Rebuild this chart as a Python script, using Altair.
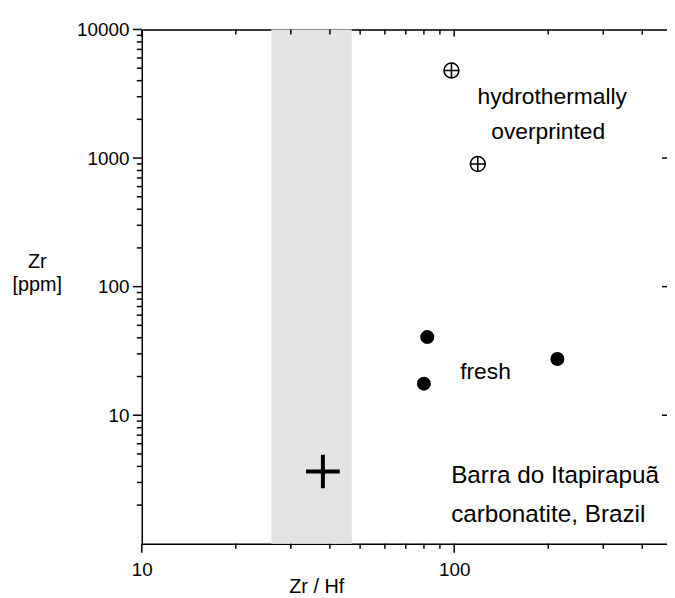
import altair as alt
import pandas as pd

# ---- data ----
fresh_zrhf = [82, 80, 214]
fresh_zr = [40.5, 17.6, 27.4]
hydro_zrhf = [98, 119]
hydro_zr = [4800, 900]
cross_zrhf = [38]
cross_zr = [3.65]
band_zrhf = [26, 47]
band_zr = [1, 10000]

x_major = [10, 100]
x_minor = [20, 30, 40, 50, 60, 70, 80, 90, 200, 300, 400]
y_major = [10, 100, 1000, 10000]
y_minor = [m * d for d in [1, 10, 100, 1000] for m in range(2, 10)]
y_right = [10, 100, 1000]

note_text = ["hydrothermally", "overprinted", "fresh"]
note_x = [206, 200, 126]
note_y = [2990, 1607, 21.5]
site_text = ["Barra do Itapirapuã", "carbonatite, Brazil"]
site_x = [97.8, 97.8]
site_y = [3.34, 1.67]

FONT = "Liberation Sans"
W, H = 530, 519

xs = alt.Scale(type="log", domain=[10, 480], nice=False)
ys = alt.Scale(type="log", domain=[1, 10000], nice=False)

bottom_axis = alt.Axis(
    orient="bottom", values=x_major, grid=False, ticks=False,
    labelExpr="format(datum.value, 'd')",
    labelOverlap=False, labelFlush=False, labelFontSize=19, labelPadding=17,
    labelColor="black", labelFont=FONT,
    domainColor="black", domainWidth=1.5,
    title="Zr / Hf", titleFont=FONT, titleFontSize=20, titleFontWeight="normal",
    titleColor="black", titleX=176, titleY=49, titleBaseline="alphabetic",
    titleAlign="center",
)
left_axis = alt.Axis(
    orient="left", values=y_major, grid=False, ticks=False,
    labelExpr="format(datum.value, 'd')",
    labelOverlap=False, labelFlush=False, labelFontSize=19, labelPadding=13,
    labelColor="black", labelFont=FONT,
    domainColor="black", domainWidth=1.5,
    title=["Zr", "[ppm]"], titleFont=FONT, titleFontSize=20, titleFontWeight="normal",
    titleColor="black", titleAngle=0, titleX=-106, titleY=240,
    titleBaseline="alphabetic", titleAlign="center", titleLineHeight=23,
)
top_axis = alt.Axis(
    orient="top", grid=False, labels=False, ticks=False, title=None,
    domainColor="black", domainWidth=1.5,
)
right_axis = alt.Axis(
    orient="right", grid=False, labels=False, ticks=False, title=None,
    domainColor="#bbbbbb", domainWidth=1,
)

band_df = pd.DataFrame({"x1": [band_zrhf[0]], "x2": [band_zrhf[1]],
                        "y1": [band_zr[0]], "y2": [band_zr[1]]})
band = alt.Chart(band_df).mark_rect(color="#e3e3e3").encode(
    x=alt.X("x1:Q", scale=xs, axis=bottom_axis),
    x2="x2:Q",
    y=alt.Y("y1:Q", scale=ys, axis=left_axis),
    y2="y2:Q",
)

# ---- tick marks (positions through the scales, lengths in px) ----
def xticks(vals, y0, y1):
    return alt.Chart(pd.DataFrame({"v": vals})).mark_rule(
        color="black", strokeWidth=1.5
    ).encode(
        x=alt.X("v:Q", scale=xs, axis=None),
        y=alt.value(y0), y2=alt.value(y1),
    )

def yticks(vals, x0, x1):
    return alt.Chart(pd.DataFrame({"v": vals})).mark_rule(
        color="black", strokeWidth=1.5
    ).encode(
        y=alt.Y("v:Q", scale=ys, axis=None),
        x=alt.value(x0), x2=alt.value(x1),
    )

ticks = [
    xticks(x_major, H, H + 9),
    xticks(x_minor, H, H + 5),
    xticks(x_major, 0, 7),
    xticks(x_minor, 0, 5),
    yticks(y_major, 0, -9),
    yticks(y_minor, 0, -5),
    yticks(y_right, W, W - 5),
]

hydro_df = pd.DataFrame({"x": hydro_zrhf, "y": hydro_zr})
oplus = "M-1,0A1,1,0,1,1,1,0A1,1,0,1,1,-1,0M-1,0L1,0M0,-1L0,1"
hydro = alt.Chart(hydro_df).mark_point(
    shape=oplus, size=225, filled=False, stroke="black", strokeWidth=1.6, opacity=1
).encode(
    x=alt.X("x:Q", scale=xs, axis=top_axis),
    y=alt.Y("y:Q", scale=ys, axis=right_axis),
)

fresh_df = pd.DataFrame({"x": fresh_zrhf, "y": fresh_zr})
fresh = alt.Chart(fresh_df).mark_point(
    shape="circle", size=200, filled=True, color="black", opacity=1
).encode(
    x=alt.X("x:Q", scale=xs, axis=None),
    y=alt.Y("y:Q", scale=ys, axis=None),
)

cross_df = pd.DataFrame({"x": cross_zrhf, "y": cross_zr})
cross = alt.Chart(cross_df).mark_point(
    shape="M-1,0L1,0M0,-1L0,1", size=1156, filled=False, stroke="black",
    strokeWidth=4, opacity=1
).encode(
    x=alt.X("x:Q", scale=xs, axis=None),
    y=alt.Y("y:Q", scale=ys, axis=None),
)

note_df = pd.DataFrame({"x": note_x, "y": note_y, "t": note_text})
notes = alt.Chart(note_df).mark_text(
    font=FONT, fontSize=23, color="black", align="center", baseline="middle"
).encode(
    x=alt.X("x:Q", scale=xs, axis=None),
    y=alt.Y("y:Q", scale=ys, axis=None),
    text="t:N",
)

site_df = pd.DataFrame({"x": site_x, "y": site_y, "t": site_text})
site = alt.Chart(site_df).mark_text(
    font=FONT, fontSize=24.5, color="black", align="left", baseline="middle"
).encode(
    x=alt.X("x:Q", scale=xs, axis=None),
    y=alt.Y("y:Q", scale=ys, axis=None),
    text="t:N",
)

chart = (
    alt.layer(band, *ticks, hydro, fresh, cross, notes, site)
    .resolve_axis(x="independent", y="independent")
    .properties(
        width=W, height=H,
        autosize=alt.AutoSizeParams(type="none"),
        padding={"left": 135, "top": 19, "right": 0, "bottom": 50},
    )
    .configure_view(stroke=None)
    .configure(background="white", font=FONT)
)

chart.save("out.html", embed_options={"renderer": "svg", "actions": False})
